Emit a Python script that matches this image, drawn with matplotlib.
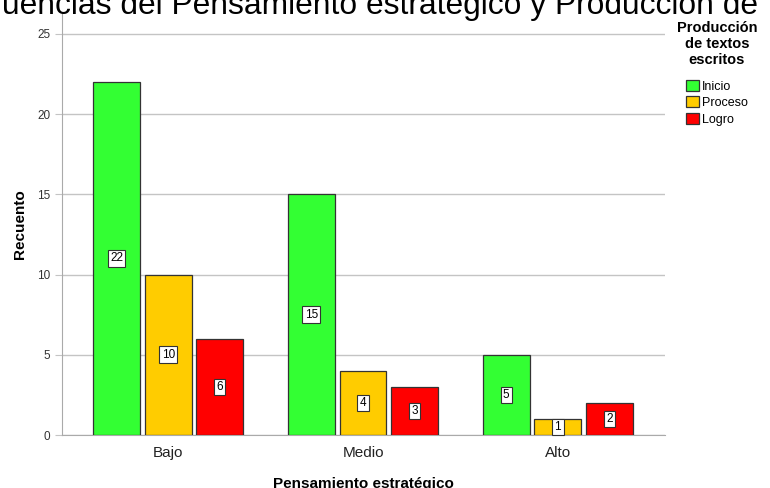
import matplotlib.pyplot as plt
import numpy as np

# datos del grafico
categorias = ["Bajo", "Medio", "Alto"]
series = ["Inicio", "Proceso", "Logro"]
inicio = [22, 15, 5]
proceso = [10, 4, 1]
logro = [6, 3, 2]
colores = ["#33ff33", "#ffcc00", "#ff0000"]
titulo = "uencias del Pensamiento estratégico y Producción de"

plt.rcParams['font.family'] = ['Liberation Sans', 'DejaVu Sans']

fig = plt.figure(figsize=(7.7, 4.88), dpi=100)
ax = fig.add_axes([62/770, 1 - 435/488, (665-62)/770, (435-13)/488])

x = np.arange(len(categorias))
ancho = 0.24
paso = 0.265
valores = [inicio, proceso, logro]
for i, (nombre, vals) in enumerate(zip(series, valores)):
    pos = x + (i - 1) * paso
    barras = ax.bar(pos, vals, ancho, color=colores[i], edgecolor="#333333",
                    linewidth=0.9, label=nombre, zorder=3)
    for b, v in zip(barras, vals):
        ax.text(b.get_x() + b.get_width()/2, v/2, str(v), ha="center", va="center",
                fontsize=8.5, zorder=4,
                bbox=dict(boxstyle="square,pad=0.2", fc="white", ec="#333333", lw=0.8))

ax.set_xlim(-0.545, 2.55)
ax.set_ylim(0, 26.3)
ax.set_yticks([0, 5, 10, 15, 20, 25])
ax.set_xticks(x)
ax.set_xticklabels(categorias, fontsize=11)
ax.tick_params(axis="y", labelsize=8.5, length=5, color="#c4c4c4", colors="#333333")
ax.tick_params(axis="x", length=0, pad=8, colors="#222222")
ax.grid(axis="y", color="#c4c4c4", linewidth=1, zorder=0)
for s in ["top", "right"]:
    ax.spines[s].set_visible(False)
ax.spines["left"].set_color("#aaaaaa")
ax.spines["bottom"].set_color("#aaaaaa")

ax.set_ylabel("Recuento", fontsize=11, fontweight="bold", labelpad=7)
ax.set_xlabel("Pensamiento estratégico", fontsize=11, fontweight="bold", labelpad=12)

# titulo recortado en la parte superior, como en la imagen original
t = fig.text(2/770, 1 - 14/488, titulo, ha="left", va="baseline", fontsize=23)
fig.canvas.draw()
w = t.get_window_extent().width
t.set_fontsize(23 * 756 / w)

leg = fig.legend(loc="upper left", bbox_to_anchor=(668/770, 1 - 12/488), frameon=False,
                 title="Producción\nde textos\nescritos", fontsize=9,
                 handlelength=1.0, handleheight=1.0, handletextpad=0.25,
                 labelspacing=0.3, borderpad=0.2)
leg.get_title().set_fontweight("bold")
leg.get_title().set_fontsize(10.5)
leg.get_title().set_multialignment("center")
leg._legend_box.sep = 9

fig.savefig("out.png", dpi=100)
